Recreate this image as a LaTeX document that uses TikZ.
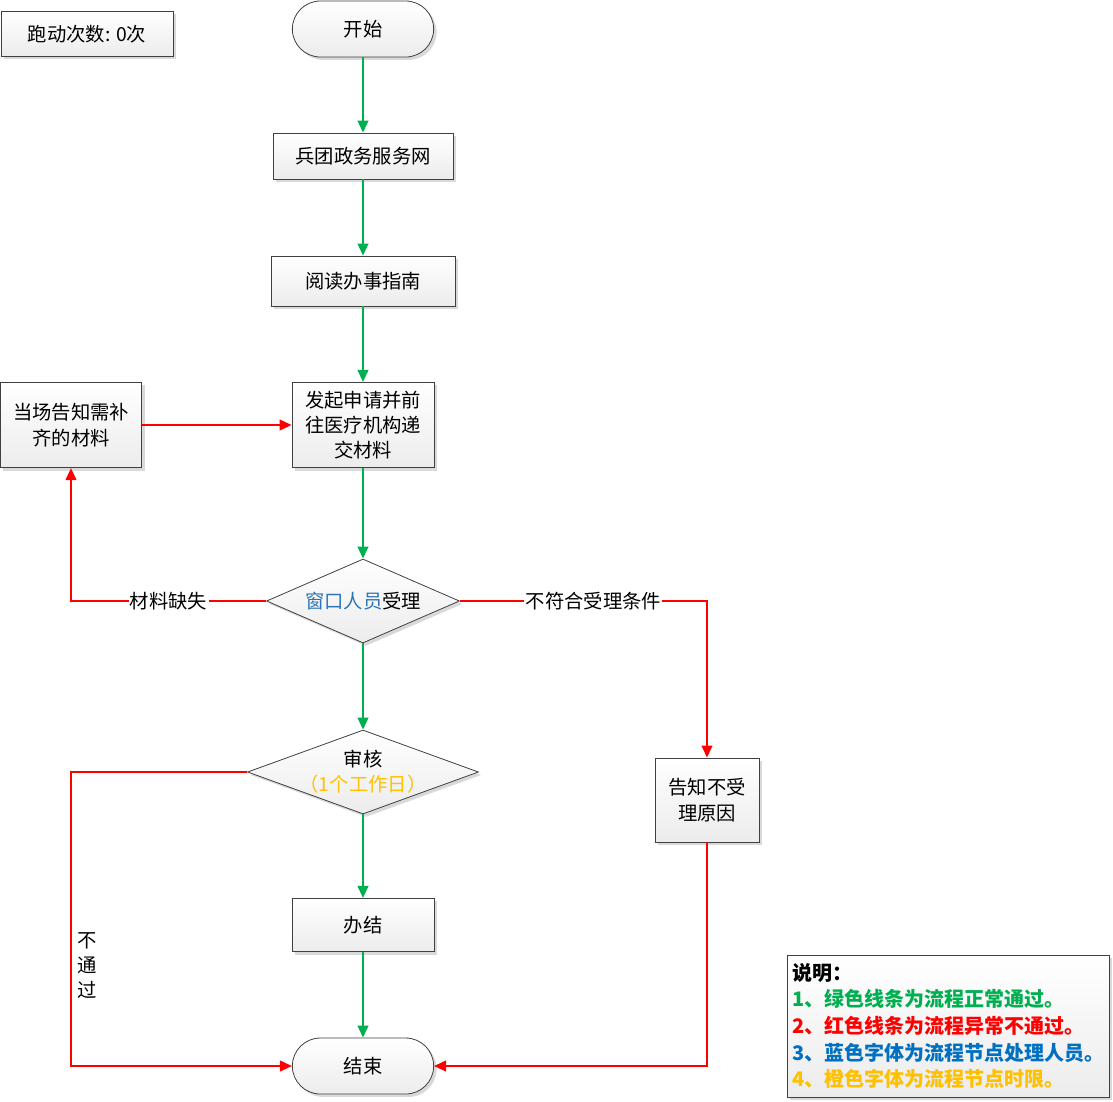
\documentclass[tikz,border=0pt]{standalone}
\usepackage{fontspec}
\setmainfont{Noto Sans CJK SC}
\usetikzlibrary{positioning,shapes.geometric,shadows,arrows.meta}
\definecolor{okgreen}{HTML}{00B050}
\definecolor{badred}{HTML}{FF0000}
\definecolor{staffblue}{HTML}{2E75B6}
\definecolor{noteblue}{HTML}{0070C0}
\definecolor{timeorange}{HTML}{FFC000}
\definecolor{edgegray}{HTML}{404040}

\begin{document}
\begin{tikzpicture}[x=0.75pt,y=-0.75pt,
      font=\fontsize{14.5}{19}\selectfont,
      box/.style={draw=edgegray,line width=0.6pt,top color=white,bottom color=gray!15,
        drop shadow={shadow xshift=2.2pt,shadow yshift=-2.2pt,fill=gray!30,opacity=1},
        align=center,inner sep=2pt},
      proc/.style={box,rectangle,minimum width=106.5pt,minimum height=64pt},
      term/.style={box,rectangle,rounded corners=21pt,minimum width=106pt,minimum height=42pt},
      decide/.style={box,diamond,inner sep=-6pt,minimum height=63pt},
      ok/.style={draw=okgreen,line width=1.5pt,-{Triangle[length=9pt,width=8pt]}},
      no/.style={draw=badred,line width=1.5pt,-{Triangle[length=9pt,width=8pt]}},
      elabel/.style={fill=white,inner sep=1pt},
    ]
        \useasboundingbox (0,0) rectangle (1113,1101);

        \node[box,rectangle,minimum width=129pt,minimum height=33.75pt] (runs) at (87,34) {跑动次数: 0次};
        \node[term] (start) at (363,29) {开始};
        \node[box,rectangle,minimum width=135pt,minimum height=34.5pt] (portal) at (363,156) {兵团政务服务网};
        \node[box,rectangle,minimum width=138pt,minimum height=37.5pt] (guide) at (363,281) {阅读办事指南};
        \node[proc] (apply) at (363,425) {发起申请并前\\往医疗机构递\\交材料};
        \node[proc,minimum width=106pt] (supply) at (71,425) {当场告知需补\\齐的材料};
        \node[decide,shape aspect=2.3,minimum width=144.75pt] (accept) at (363,601) {{\color{staffblue}窗口人员}受理};
        \node[decide,shape aspect=2.75,minimum width=173.25pt] (review) at (363,772) {审核\\{\color{timeorange}（1个工作日）}};
        \node[box,rectangle,minimum width=106.5pt,minimum height=40pt] (done) at (363,925) {办结};
        \node[proc,minimum width=78pt,minimum height=63pt] (reject) at (707,800) {告知不受\\理原因};
        \node[term] (finish) at (363,1066) {结束};

        \node[box,rectangle,minimum width=241.5pt,minimum height=106.5pt,text width=234pt,
          align=left,font=\bfseries\fontsize{15}{20}\selectfont] (legend) at (948,1026)
          {说明：\\
           {\color{okgreen}1、绿色线条为流程正常通过。}\\
           {\color{badred}2、红色线条为流程异常不通过。}\\
           {\color{noteblue}3、蓝色字体为流程节点处理人员。}\\
           {\color{timeorange}4、橙色字体为流程节点时限。}};

        \draw[ok] (start) -- (portal);
        \draw[ok] (portal) -- (guide);
        \draw[ok] (guide) -- (apply);
        \draw[ok] (apply) -- (accept);
        \draw[ok] (accept) -- (review);
        \draw[ok] (review) -- (done);
        \draw[ok] (done) -- (finish);

        \draw[no] (supply) -- (apply);
        \draw[no] (accept.west) -| node[elabel,pos=0.25]{材料缺失} (supply.south);
        \draw[no] (accept.east) -| node[elabel,pos=0.27]{不符合受理条件} (reject.north);
        \draw[no] (review.west) -| node[right=0.5pt,pos=0.83,align=center,font=\fontsize{14.5}{18.75}\selectfont]{不\\通\\过} (supply.south |- finish.west) -- (finish.west);
        \draw[no] (reject.south) |- (finish.east);
\end{tikzpicture}
\end{document}
